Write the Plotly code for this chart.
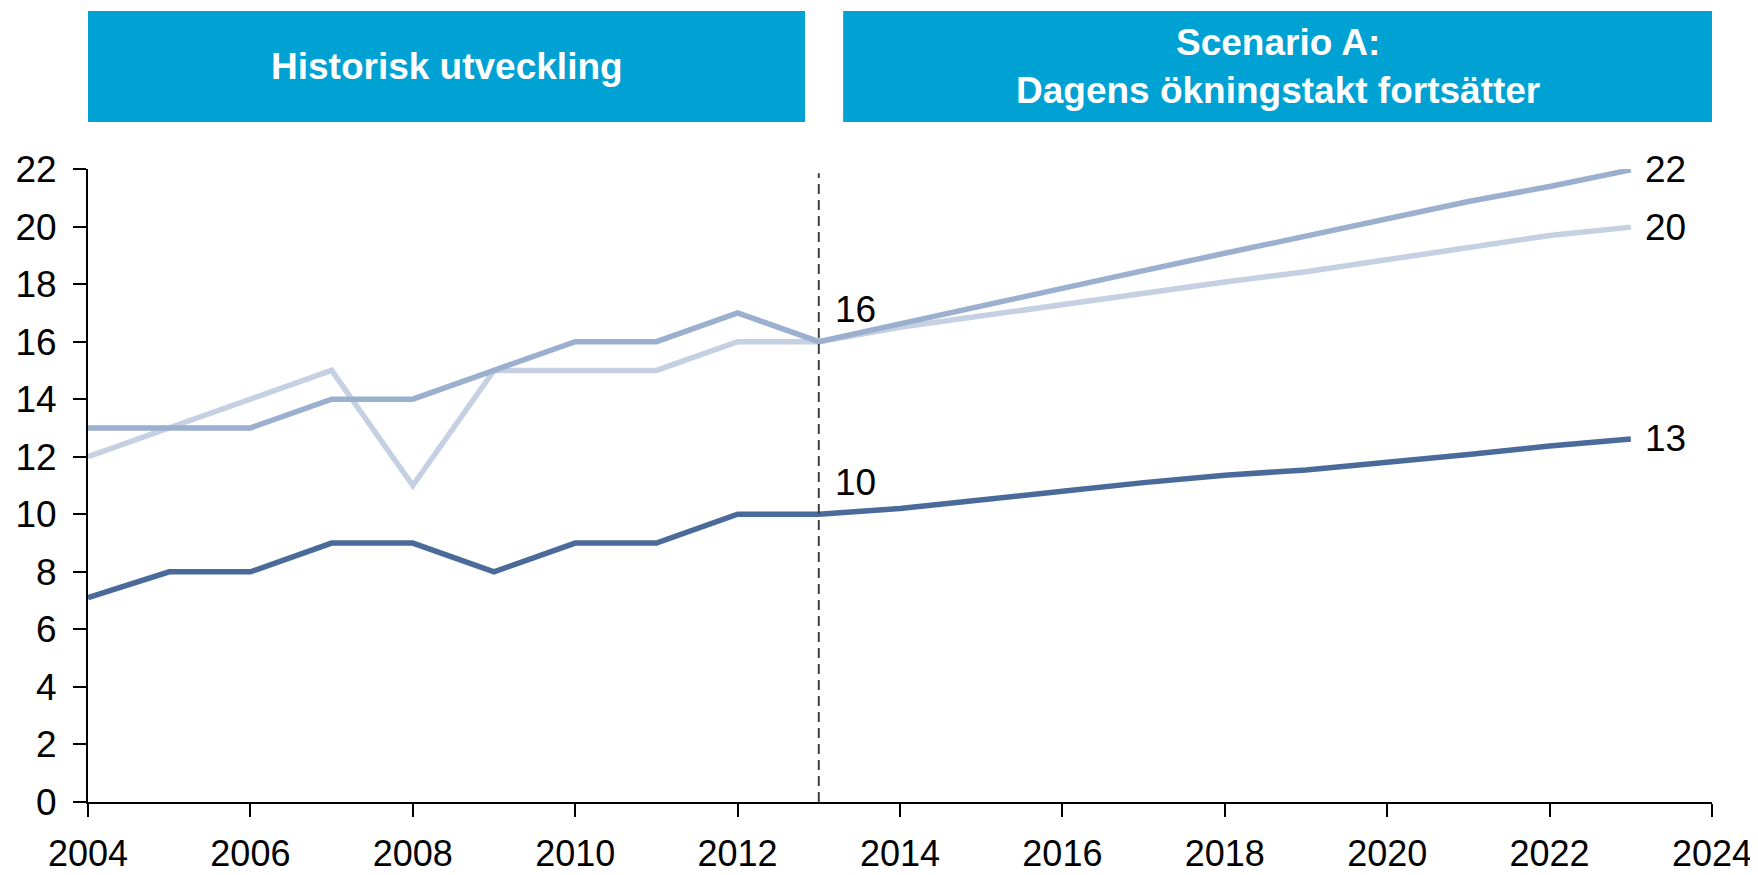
import plotly.graph_objects as go

# ---------------- data ----------------
years = list(range(2004, 2024))
series_light = [12, 13, 14, 15, 11, 15, 15, 15, 16, 16,
                16.5, 16.9, 17.3, 17.68, 18.07, 18.43, 18.84, 19.27, 19.69, 19.98]
series_medium = [13, 13, 13, 14, 14, 15, 16, 16, 17, 16,
                 16.62, 17.26, 17.88, 18.47, 19.07, 19.68, 20.29, 20.87, 21.39, 21.97]
series_dark = [7.1, 8, 8, 9, 9, 8, 9, 9, 10, 10,
               10.2, 10.48, 10.8, 11.1, 11.36, 11.54, 11.8, 12.08, 12.37, 12.62]
x_tick_vals = [2004, 2006, 2008, 2010, 2012, 2014, 2016, 2018, 2020, 2022, 2024]
x_tick_text = [str(v) for v in x_tick_vals]
y_tick_vals = [0, 2, 4, 6, 8, 10, 12, 14, 16, 18, 20, 22]
split_year = 2013
header_left = "Historisk utveckling"
header_right = "Scenario A:<br>Dagens ökningstakt fortsätter"

# ---------------- style ----------------
FONT = "Liberation Sans, Arial, sans-serif"
C_LIGHT = "#C5D0E2"
C_MED = "#9BAFCE"
C_DARK = "#4A6B9A"
C_HEAD = "#00A1D3"

fig = go.Figure()
for ys, col in [(series_light, C_LIGHT), (series_medium, C_MED), (series_dark, C_DARK)]:
    fig.add_trace(go.Scatter(x=years, y=ys, mode="lines",
                             line=dict(color=col, width=5.5), hoverinfo="skip"))

# dashed divider
fig.add_shape(type="line", xref="x", yref="y", x0=split_year, x1=split_year,
              y0=0, y1=21.85, line=dict(color="#404040", width=2, dash="10px,6px"))

# header boxes
hy0, hy1 = 1.0742, 1.2496
boxes = [(years[0], split_year - 0.17, header_left),
         (split_year + 0.3, x_tick_vals[-1], header_right)]
for x0, x1, txt in boxes:
    fig.add_shape(type="rect", xref="x", yref="paper", x0=x0, x1=x1, y0=hy0, y1=hy1,
                  fillcolor=C_HEAD, line=dict(width=0), layer="below")
    fig.add_annotation(x=(x0 + x1) / 2, y=(hy0 + hy1) / 2, xref="x", yref="paper",
                       text="<b>" + txt + "</b>", showarrow=False,
                       font=dict(family=FONT, size=37, color="white"),
                       xanchor="center", yanchor="middle")

# end labels
for ys in (series_medium, series_light, series_dark):
    fig.add_annotation(x=years[-1], y=ys[-1], xref="x", yref="y",
                       text=str(round(ys[-1])), showarrow=False,
                       xanchor="left", yanchor="middle", xshift=12,
                       font=dict(family=FONT, size=37, color="black"))

# labels at split year
idx = years.index(split_year)
for ys in (series_medium, series_dark):
    fig.add_annotation(x=split_year, y=ys[idx], xref="x", yref="y",
                       text=str(round(ys[idx])), showarrow=False,
                       xanchor="left", yanchor="middle", xshift=14, yshift=32,
                       font=dict(family=FONT, size=37, color="black"))

axis_common = dict(showline=True, linecolor="black", linewidth=2, ticks="outside",
                   ticklen=13, tickwidth=2, tickcolor="black", showgrid=False,
                   zeroline=False, automargin=False)

fig.update_xaxes(range=[2004, 2024], tickvals=x_tick_vals, ticktext=x_tick_text,
                 ticklabelstandoff=6, tickfont=dict(family=FONT, size=36, color="black"),
                 **axis_common)
fig.update_yaxes(range=[0, 22], tickvals=y_tick_vals, ticklabelstandoff=9,
                 tickfont=dict(family=FONT, size=37, color="black"), **axis_common)

# the page body adds an 8px offset, so the figure is 8px smaller than the window
fig.update_layout(width=1750, height=867, showlegend=False,
                  plot_bgcolor="white", paper_bgcolor="white",
                  margin=dict(l=80, r=46, t=161, b=73, autoexpand=False),
                  font=dict(family=FONT))

fig.write_html("out.html")
